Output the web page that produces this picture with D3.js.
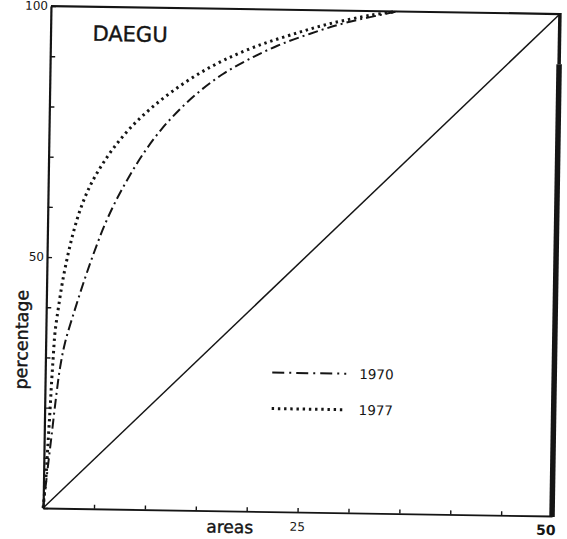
<!DOCTYPE html>
<html>
<head>
<meta charset="utf-8">
<script src="https://cdn.jsdelivr.net/npm/d3@7"></script>
<style>
body{margin:0;background:#fff}
svg{display:block}
</style>
</head>
<body>
<svg></svg>
<script>
// values: cumulative share of areas (x) vs percentage (y)
let areas1970 = [0, 0.25, 0.47, 0.7, 0.92, 1.15, 1.45, 1.9, 2.8, 3.7, 4.6, 5.6, 6.7, 8.0, 9.4, 11.0, 12.8, 14.8, 17.0, 19.5, 22.3, 25.5, 29, 34]
let pct1970   = [0, 5, 9.5, 14, 18.5, 23, 28, 33, 39.5, 45.5, 51, 56.5, 61.5, 66.5, 71.2, 75.7, 79.8, 83.6, 87.0, 90.0, 92.8, 95.3, 97.6, 100]

let areas1977 = [0, 0.2, 0.32, 0.43, 0.54, 0.64, 0.76, 0.9, 1.2, 1.55, 2.0, 2.55, 3.2, 4.05, 5.1, 6.4, 8.0, 9.9, 12.0, 14.4, 17.1, 20.2, 23.6, 27.3, 31.5, 34]
let pct1977   = [0, 5, 10, 15, 20, 25, 30, 35, 40, 45, 50, 55, 59.6, 64, 68, 72, 76, 79.8, 83.3, 86.7, 89.8, 92.6, 95, 97.3, 99.2, 100]

let equalAreas = [0, 50]
let equalPct = [0, 100]

let xTicks = [0, 5, 10, 15, 20, 25, 30, 35, 40, 45, 50]
let yTicks = [0, 10, 20, 30, 40, 50, 60, 70, 80, 90, 100]
let xTickLabels = [25, 50]
let yTickLabels = [50, 100]
let seriesNames = ["1970", "1977"]

let width = 567
let height = 539
let padLeft = 47, padRight = 556, padTop = 10, padBottom = 512

let svg = d3.select('svg').attr('width', width).attr('height', height)
// the scan is tilted a little clockwise
let g = svg.append('g').attr('transform', 'rotate(0.9,301,261)')

let xScale = d3.scaleLinear().domain([0, 50]).range([padLeft, padRight])
let yScale = d3.scaleLinear().domain([0, 100]).range([padBottom, padTop])

let ink = '#151515'

// axes, ticks pointing inward, no generated labels
let xAxis = d3.axisBottom(xScale).tickValues(xTicks).tickSizeInner(-4).tickSizeOuter(0).tickFormat('')
let yAxis = d3.axisLeft(yScale).tickValues(yTicks).tickSizeInner(-5).tickSizeOuter(0).tickFormat('')

let gx = g.append('g').attr('transform', 'translate(0,' + padBottom + ')').call(xAxis)
gx.select('.domain').attr('stroke', ink).attr('stroke-width', 1.8)
gx.selectAll('.tick line').attr('stroke', ink).attr('stroke-width', 1.4)

let gy = g.append('g').attr('transform', 'translate(' + padLeft + ',0)').call(yAxis)
gy.select('.domain').attr('stroke', ink).attr('stroke-width', 2.2)
gy.selectAll('.tick line').attr('stroke', ink).attr('stroke-width', 1.4)

// top and heavy right frame
g.append('line').attr('x1', xScale(0)).attr('x2', xScale(50)).attr('y1', yScale(100)).attr('y2', yScale(100))
  .attr('stroke', ink).attr('stroke-width', 2.2)
g.append('line').attr('x1', xScale(50)).attr('x2', xScale(50)).attr('y1', yScale(100) - 1).attr('y2', yScale(90))
  .attr('stroke', ink).attr('stroke-width', 3.5)
g.append('line').attr('x1', xScale(50)).attr('x2', xScale(50)).attr('y1', yScale(90)).attr('y2', yScale(0) + 1)
  .attr('stroke', ink).attr('stroke-width', 5.5)

// tick labels
g.selectAll('.ylab').data(yTickLabels).enter().append('text')
  .attr('class', 'ylab')
  .attr('x', padLeft - 3).attr('y', d => yScale(d) + 4)
  .attr('text-anchor', 'end')
  .attr('font-family', 'DejaVu Sans').attr('font-size', 12).attr('fill', ink)
  .text(d => d)

g.selectAll('.xlab').data(xTickLabels).enter().append('text')
  .attr('class', 'xlab')
  .attr('x', d => d == 50 ? xScale(d) - 6 : xScale(d))
  .attr('y', padBottom + 19)
  .attr('text-anchor', 'middle')
  .attr('font-family', 'DejaVu Sans').attr('font-size', d => d == 50 ? 14 : 12)
  .attr('font-weight', d => d == 50 ? 'bold' : 'normal').attr('fill', ink)
  .text(d => d)

// axis titles
g.append('text').attr('x', 234).attr('y', padBottom + 22)
  .attr('text-anchor', 'middle').attr('font-family', 'DejaVu Sans').attr('font-size', 17).attr('fill', ink)
  .attr('stroke', ink).attr('stroke-width', 0.4)
  .text('areas')
g.append('text').attr('transform', 'translate(29,344) rotate(-90)')
  .attr('text-anchor', 'middle').attr('font-family', 'DejaVu Sans').attr('font-size', 17.5).attr('fill', ink)
  .attr('stroke', ink).attr('stroke-width', 0.4)
  .text('percentage')

g.append('text').attr('x', 89).attr('y', 44)
  .attr('font-family', 'DejaVu Sans').attr('font-size', 21).attr('fill', ink)
  .attr('stroke', ink).attr('stroke-width', 0.4)
  .text('DAEGU')

// equality line
let line = d3.line().x(d => xScale(d[0])).y(d => yScale(d[1]))
g.append('path').datum(d3.zip(equalAreas, equalPct))
  .attr('d', line).attr('fill', 'none').attr('stroke', ink).attr('stroke-width', 1.5)

let curve = d3.line().x(d => xScale(d[0])).y(d => yScale(d[1])).curve(d3.curveCatmullRom.alpha(0.5))

// 1970 dash-dot
g.append('path').datum(d3.zip(areas1970, pct1970))
  .attr('d', curve).attr('fill', 'none').attr('stroke', ink)
  .attr('stroke-width', 2).attr('stroke-dasharray', '10,4,2,4')

// 1977 dotted
g.append('path').datum(d3.zip(areas1977, pct1977))
  .attr('d', curve).attr('fill', 'none').attr('stroke', ink)
  .attr('stroke-width', 3).attr('stroke-dasharray', '2.4,3.8')

// legend
let legend = g.append('g').attr('transform', 'translate(274,373)')
legend.append('line').attr('x1', 0).attr('x2', 74).attr('y1', 0).attr('y2', 0)
  .attr('stroke', ink).attr('stroke-width', 2).attr('stroke-dasharray', '12,5,2,5')
legend.append('line').attr('x1', 0).attr('x2', 74).attr('y1', 36).attr('y2', 36)
  .attr('stroke', ink).attr('stroke-width', 3).attr('stroke-dasharray', '2.4,3.8')
legend.selectAll('text').data(seriesNames).enter().append('text')
  .attr('x', 87).attr('y', (d, i) => i * 36 + 5)
  .attr('font-family', 'DejaVu Sans').attr('font-size', 13.5).attr('fill', ink)
  .text(d => d)
</script>
</body>
</html>
